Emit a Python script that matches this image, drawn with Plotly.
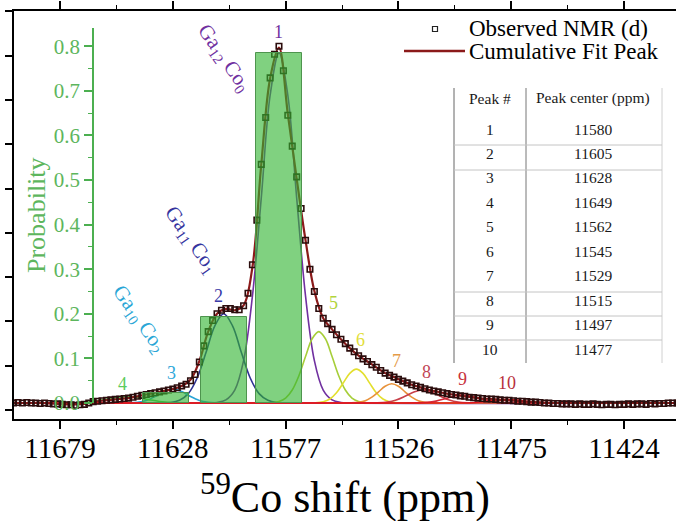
import numpy as np
import plotly.graph_objects as go

# ---------------- observed 59Co NMR spectrum (2 ppm sampling) ----------------
obs_ppm = np.arange(11700, 11398, -2)
obs_int = [
    0.000, 0.001, 0.000, 0.001, 0.000, 0.000, -0.001, 0.000, -0.001, -0.002,
    -0.002, -0.003, -0.004, -0.004, -0.005, -0.004, -0.003, 0.000, 0.003, 0.004,
    0.005, 0.006, 0.007, 0.008, 0.009, 0.010, 0.011, 0.013, 0.015, 0.017,
    0.019, 0.021, 0.023, 0.025, 0.027, 0.029, 0.031, 0.034, 0.038, 0.042,
    0.050, 0.064, 0.092, 0.128, 0.160, 0.185, 0.200, 0.208, 0.212, 0.212,
    0.209, 0.209, 0.218, 0.246, 0.310, 0.410, 0.535, 0.640, 0.729, 0.782,
    0.800, 0.745, 0.645, 0.576, 0.507, 0.436, 0.365, 0.300, 0.250, 0.212,
    0.190, 0.178, 0.165, 0.153, 0.143, 0.133, 0.123, 0.115, 0.106, 0.099,
    0.093, 0.086, 0.080, 0.073, 0.067, 0.062, 0.058, 0.053, 0.049, 0.045,
    0.041, 0.038, 0.035, 0.032, 0.029, 0.027, 0.025, 0.023, 0.021, 0.019,
    0.018, 0.016, 0.015, 0.013, 0.012, 0.011, 0.010, 0.009, 0.009, 0.008,
    0.007, 0.006, 0.006, 0.005, 0.004, 0.004, 0.003, 0.002, 0.002, 0.001,
    0.000, 0.000, -0.001, -0.001, -0.002, -0.002, -0.002, -0.003, -0.002, -0.003,
    -0.003, -0.002, -0.003, -0.004, -0.003, -0.003, -0.004, -0.003, -0.003, -0.002,
    -0.003, -0.002, -0.002, -0.003, -0.001, -0.002, -0.001, -0.001, 0.000, 0.000,
    0.000,
]

# ---------------- cumulative fit (4 ppm sampling) ----------------
fit_ppm = np.arange(11700, 11398, -4)
fit_int = [
    0.000, 0.000, 0.000, 0.000, -0.001, -0.002, -0.003, -0.003, -0.002, 0.002,
    0.005, 0.007, 0.009, 0.011, 0.015, 0.019, 0.023, 0.027, 0.031, 0.038,
    0.052, 0.094, 0.160, 0.200, 0.211, 0.208, 0.219, 0.305, 0.535, 0.728,
    0.797, 0.648, 0.503, 0.365, 0.251, 0.190, 0.165, 0.143, 0.123, 0.106,
    0.093, 0.080, 0.067, 0.058, 0.049, 0.041, 0.035, 0.029, 0.025, 0.021,
    0.018, 0.015, 0.012, 0.010, 0.009, 0.007, 0.006, 0.004, 0.003, 0.002,
    0.001, 0.000, 0.000, 0.000, 0.000, 0.000, 0.000, 0.000, 0.000, 0.000,
    0.000, 0.000, 0.000, 0.000, 0.000, 0.000,
]

# ---------------- fitted component peaks ----------------
comp1_ppm = [11700, 11612, 11608, 11604, 11600, 11596, 11592, 11588, 11584, 11580,
             11576, 11572, 11568, 11564, 11560, 11556, 11552, 11548, 11400]
comp1_int = [0, 0, 0.001, 0.007, 0.029, 0.095, 0.24, 0.46, 0.69, 0.785,
             0.69, 0.46, 0.24, 0.095, 0.029, 0.007, 0.001, 0, 0]

comp2_ppm = [11700, 11634, 11629, 11625, 11621, 11617, 11613, 11609, 11605,
             11601, 11597, 11593, 11589, 11585, 11581, 11576, 11400]
comp2_int = [0, 0, 0.001, 0.006, 0.021, 0.056, 0.113, 0.173, 0.200,
             0.173, 0.113, 0.056, 0.021, 0.006, 0.001, 0, 0]

comp3_ppm = [11700, 11654, 11648, 11644, 11640, 11636, 11632, 11628,
             11624, 11620, 11616, 11612, 11608, 11602, 11400]
comp3_int = [0, 0, 0.0003, 0.0015, 0.0056, 0.0145, 0.026, 0.031,
             0.026, 0.0145, 0.0056, 0.0015, 0.0003, 0, 0]

comp4_ppm = [11700, 11684, 11676, 11669, 11664, 11659, 11654, 11649,
             11644, 11639, 11634, 11629, 11622, 11614, 11400]
comp4_int = [0, 0, 0.0002, 0.0012, 0.0035, 0.0075, 0.012, 0.014,
             0.012, 0.0075, 0.0035, 0.0012, 0.0002, 0, 0]

comp5_ppm = [11700, 11590, 11584, 11580, 11577, 11574, 11571, 11568, 11565, 11562,
             11559, 11556, 11553, 11550, 11547, 11544, 11540, 11534, 11400]
comp5_int = [0, 0, 0.0005, 0.0035, 0.011, 0.029, 0.061, 0.104, 0.144, 0.160,
             0.144, 0.104, 0.061, 0.029, 0.011, 0.0035, 0.0005, 0, 0]

comp6_ppm = [11700, 11570, 11564, 11560, 11557, 11554, 11551, 11548, 11545,
             11542, 11539, 11536, 11533, 11530, 11526, 11520, 11400]
comp6_int = [0, 0, 0.0004, 0.0027, 0.0089, 0.023, 0.0445, 0.0665, 0.076,
             0.0665, 0.0445, 0.023, 0.0089, 0.0027, 0.0004, 0, 0]

comp7_ppm = [11700, 11554, 11548, 11544, 11541, 11538, 11535, 11532, 11529,
             11526, 11523, 11520, 11517, 11514, 11510, 11504, 11400]
comp7_int = [0, 0, 0.0002, 0.0015, 0.005, 0.013, 0.025, 0.0376, 0.043,
             0.0376, 0.025, 0.013, 0.005, 0.0015, 0.0002, 0, 0]

comp8_ppm = [11700, 11544, 11536, 11531, 11527, 11523, 11519, 11515,
             11511, 11507, 11503, 11499, 11494, 11486, 11400]
comp8_int = [0, 0, 0.0003, 0.0021, 0.0067, 0.015, 0.0246, 0.029,
             0.0246, 0.015, 0.0067, 0.0021, 0.0003, 0, 0]

comp9_ppm = [11700, 11526, 11518, 11513, 11509, 11505, 11501, 11497,
             11493, 11489, 11485, 11481, 11476, 11468, 11400]
comp9_int = [0, 0, 0.0002, 0.0013, 0.0042, 0.0094, 0.0153, 0.018,
             0.0153, 0.0094, 0.0042, 0.0013, 0.0002, 0, 0]

comp10_ppm = [11700, 11507, 11498, 11493, 11489, 11485, 11481, 11477,
              11473, 11469, 11465, 11461, 11456, 11447, 11400]
comp10_int = [0, 0, 0.0001, 0.0007, 0.0023, 0.0045, 0.0069, 0.008,
              0.0069, 0.0045, 0.0023, 0.0007, 0.0001, 0, 0]

# ---------------- peak table ----------------
peak_ids = [1, 2, 3, 4, 5, 6, 7, 8, 9, 10]
peak_centers = [11580, 11605, 11628, 11649, 11562, 11545, 11529, 11515, 11497, 11477]

# ---------------- GanCo(12-n) configuration probabilities ----------------
config_ppm = [11580, 11605, 11631]
config_prob = [0.785, 0.193, 0.022]
config_width = 20.8

# ---------------- styling ----------------
FONT = "Liberation Serif"
comp_colors = ["#7030A0", "#2E3192", "#29A3D6", "#4CC24C", "#A6CE39",
               "#E3DF2E", "#E8923A", "#C8404A", "#D42A3A", "#E0141E"]
label_colors = ["#7030A0", "#3A3AA8", "#2FA8DA", "#5CCB5C", "#B2D43C",
                "#E2DE3A", "#E49A48", "#C24656", "#C8323C", "#B8303C"]
GREEN_TXT = "#5DB65D"
GREEN_AX = "#4CAF50"

W, H = 676, 521
L, R, T, B = 14, 0, 11, 102
PW, PH = W - L - R, H - T - B


def px(x):
    return (x - L) / PW


def py(y):
    return (H - B - y) / PH


fig = go.Figure()

comps = [(comp1_ppm, comp1_int), (comp2_ppm, comp2_int), (comp3_ppm, comp3_int),
         (comp4_ppm, comp4_int), (comp5_ppm, comp5_int), (comp6_ppm, comp6_int),
         (comp7_ppm, comp7_int), (comp8_ppm, comp8_int), (comp9_ppm, comp9_int),
         (comp10_ppm, comp10_int)]
for (cx, cy), col in zip(comps, comp_colors):
    fig.add_trace(go.Scatter(x=cx, y=cy, mode="lines",
                             line=dict(color=col, width=1.6, shape="spline"),
                             showlegend=False, hoverinfo="skip"))

fig.add_trace(go.Scatter(x=fit_ppm, y=fit_int, mode="lines", name="Cumulative Fit Peak",
                         line=dict(color="#8B1A1A", width=2.2, shape="spline"),
                         showlegend=False))
fig.add_trace(go.Scatter(x=obs_ppm, y=obs_int, mode="markers", name="Observed NMR (d)",
                         marker=dict(symbol="square-open", size=5.5, color="#2b0d0d",
                                     line=dict(width=1.6)),
                         showlegend=False))

fig.add_trace(go.Bar(x=config_ppm, y=config_prob, width=config_width, yaxis="y2",
                     marker=dict(color="rgba(50,180,50,0.62)",
                                 line=dict(color="#4E944E", width=1)),
                     showlegend=False))

# y ranges: intensity axis shares the zero level with the probability axis
y_lo, y_hi = -0.0359, 0.8789
p_dom = [py(403), py(28)]
p_hi = (403 - 28) / 446.0

fig.update_layout(
    width=W, height=H,
    margin=dict(l=L, r=R, t=T, b=B, pad=0),
    paper_bgcolor="white", plot_bgcolor="rgba(0,0,0,0)",
    font=dict(family=FONT, color="black"),
    bargap=0,
    xaxis=dict(range=[11699.8, 11400.5], tickmode="linear", tick0=11424, dtick=51,
               tickformat="d",
               ticks="outside", ticklen=8, tickwidth=1.5, tickcolor="black",
               showline=True, linewidth=2, linecolor="black", mirror="ticks",
               minor=dict(dtick=25.5, tick0=11424, ticks="outside", ticklen=4,
                          tickwidth=1.2, tickcolor="black"),
               showgrid=False, zeroline=False, ticklabelstandoff=-6,
               tickfont=dict(family=FONT, size=29, color="black")),
    yaxis=dict(range=[y_lo, y_hi], tickmode="linear", tick0=-0.0157, dtick=0.0993,
               ticks="outside", ticklen=7, tickwidth=1.5, tickcolor="black",
               showticklabels=False, showline=True, linewidth=2, linecolor="black",
               showgrid=False, zeroline=False),
    yaxis2=dict(domain=p_dom, range=[0, p_hi], anchor="free", position=px(93),
                side="left", tickmode="linear", tick0=0, dtick=0.1,
                tickformat=".1f", ticks="outside", ticklen=8, tickwidth=1.5,
                tickcolor=GREEN_AX, showline=True, linewidth=1.5, linecolor=GREEN_AX,
                minor=dict(dtick=0.05, ticks="outside", ticklen=4, tickwidth=1.2,
                           tickcolor=GREEN_AX),
                showgrid=False, zeroline=False,
                tickfont=dict(family=FONT, size=21, color=GREEN_TXT)),
)

ann = []
# axis titles
ann.append(dict(x=0.5, y=py(494), xref="paper", yref="paper", showarrow=False,
                text="<sup>59</sup>Co shift (ppm)", xanchor="center", yanchor="middle",
                font=dict(family=FONT, size=44, color="black")))
ann.append(dict(x=px(36), y=py(215), xref="paper", yref="paper", showarrow=False,
                text="Probability", textangle=-90, xanchor="center", yanchor="middle",
                font=dict(family=FONT, size=26, color=GREEN_TXT)))

# configuration labels
cfg_text = ["Ga<sub>12</sub> Co<sub>0</sub>", "Ga<sub>11</sub> Co<sub>1</sub>",
            "Ga<sub>10</sub> Co<sub>2</sub>"]
cfg_pos = [(224, 58), (191, 240), (139, 319)]
cfg_col = ["#7030A0", "#35349E", "#2AA6D6"]
for t, (xx, yy), c in zip(cfg_text, cfg_pos, cfg_col):
    ann.append(dict(x=px(xx), y=py(yy), xref="paper", yref="paper", showarrow=False,
                    text=t, textangle=55, xanchor="center", yanchor="middle",
                    font=dict(family=FONT, size=21, color=c)))

# peak numbers
num_pos = [(278, 32), (218, 296), (171, 373), (123, 384), (333, 303),
           (360, 340), (396, 361), (426, 372), (462, 379), (507, 383)]
for pid, (xx, yy), c in zip(peak_ids, num_pos, label_colors):
    ann.append(dict(x=px(xx), y=py(yy), xref="paper", yref="paper", showarrow=False,
                    text=str(pid), xanchor="center", yanchor="middle",
                    font=dict(family=FONT, size=18, color=c)))

# legend
ann.append(dict(x=px(467), y=py(29), xref="paper", yref="paper", showarrow=False,
                text="Observed NMR (d)", xanchor="left", yanchor="middle",
                font=dict(family=FONT, size=23, color="black")))
ann.append(dict(x=px(467), y=py(52), xref="paper", yref="paper", showarrow=False,
                text="Cumulative Fit Peak", xanchor="left", yanchor="middle",
                font=dict(family=FONT, size=23, color="black")))

# peak table
tfont = dict(family=FONT, size=15.5, color="#1a1a1a")
ann.append(dict(x=px(490), y=py(98), xref="paper", yref="paper", showarrow=False,
                text="Peak #", xanchor="center", yanchor="middle", font=tfont))
ann.append(dict(x=px(593), y=py(98), xref="paper", yref="paper", showarrow=False,
                text="Peak center (ppm)", xanchor="center", yanchor="middle", font=tfont))
row_y0, row_dy = 129, 24.45
for i, (pid, pc) in enumerate(zip(peak_ids, peak_centers)):
    yy = row_y0 + i * row_dy
    ann.append(dict(x=px(490), y=py(yy), xref="paper", yref="paper", showarrow=False,
                    text=str(pid), xanchor="center", yanchor="middle", font=tfont))
    ann.append(dict(x=px(593), y=py(yy), xref="paper", yref="paper", showarrow=False,
                    text=str(pc), xanchor="center", yanchor="middle", font=tfont))

shapes = []
# legend symbols
shapes.append(dict(type="rect", xref="paper", yref="paper", x0=px(432.5), x1=px(437.5),
                   y0=py(31.5), y1=py(26.5), line=dict(color="#222", width=1.2)))
shapes.append(dict(type="line", xref="paper", yref="paper", x0=px(404), x1=px(465),
                   y0=py(51), y1=py(51), line=dict(color="#8B1A1A", width=2.5)))
# table rules
shapes.append(dict(type="line", xref="paper", yref="paper", x0=px(454), x1=px(454),
                   y0=py(88), y1=py(363), line=dict(color="#666", width=1)))
shapes.append(dict(type="line", xref="paper", yref="paper", x0=px(526), x1=px(526),
                   y0=py(88), y1=py(363), line=dict(color="#777", width=1)))
shapes.append(dict(type="line", xref="paper", yref="paper", x0=px(662), x1=px(662),
                   y0=py(88), y1=py(363), line=dict(color="#d0d0d0", width=1)))
for yy in [145, 170, 292, 316, 340]:
    shapes.append(dict(type="line", xref="paper", yref="paper", x0=px(454), x1=px(662),
                       y0=py(yy), y1=py(yy), line=dict(color="#c4c4c4", width=1)))

fig.update_layout(annotations=ann, shapes=shapes)
fig.write_html("out.html")
